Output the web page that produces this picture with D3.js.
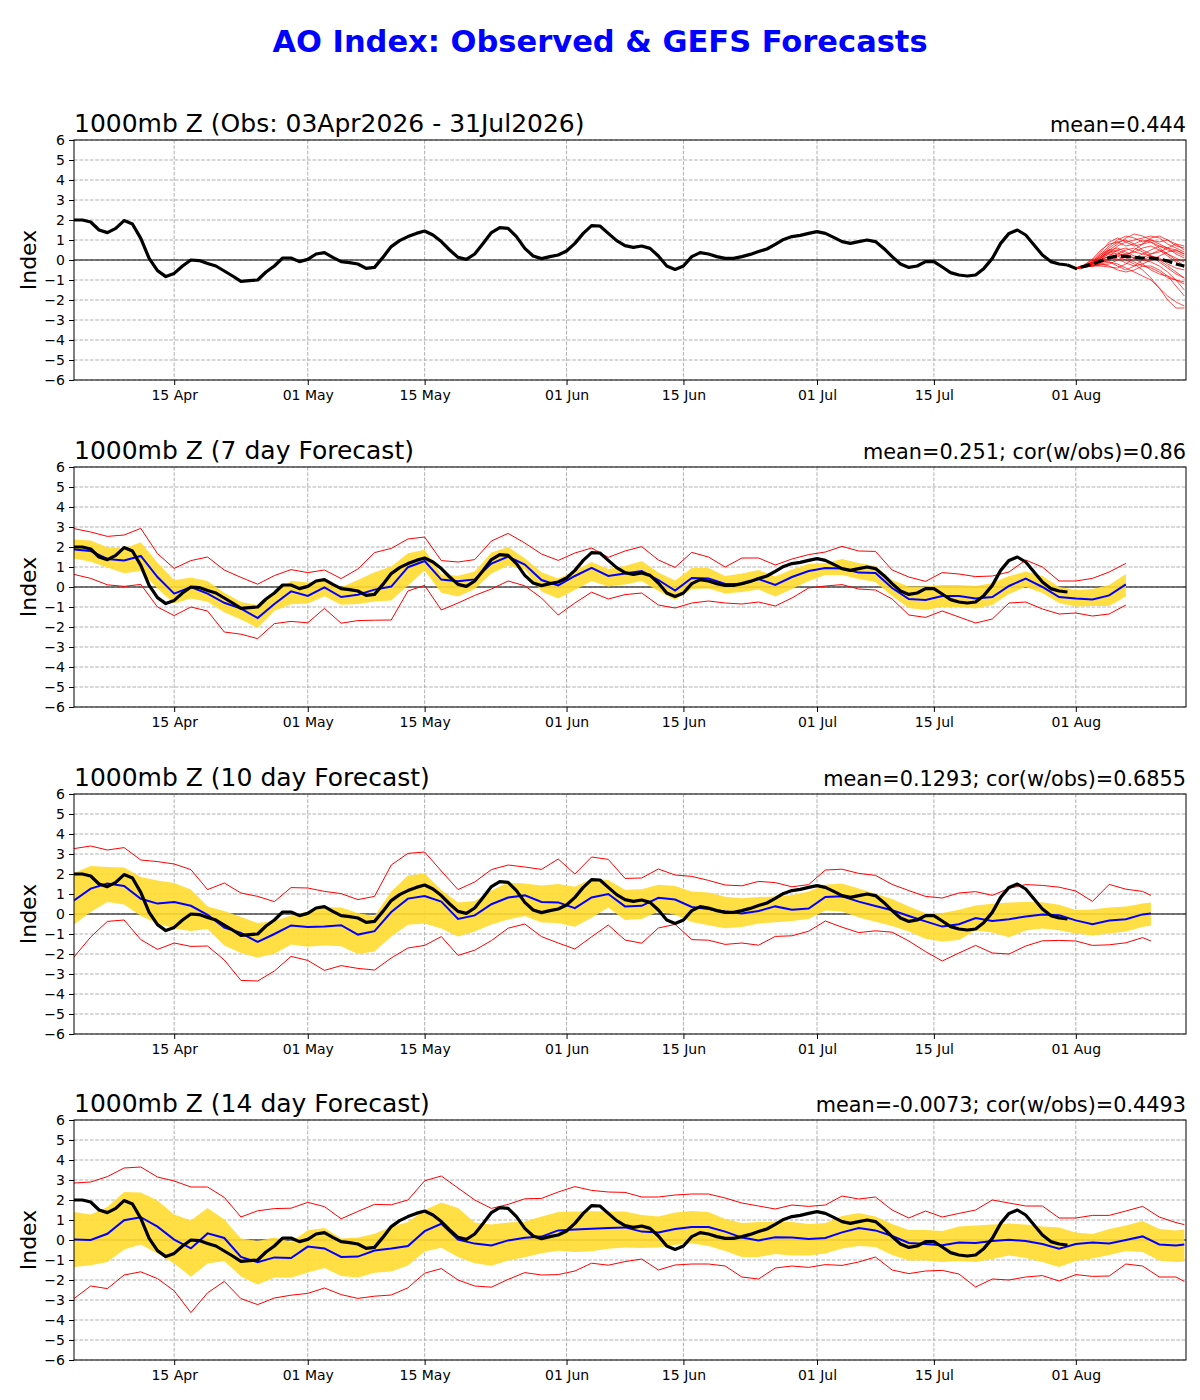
<!DOCTYPE html>
<html><head><meta charset="utf-8">
<script src="https://cdn.jsdelivr.net/npm/d3@7"></script>
<style>
body{margin:0;background:#fff}
svg{display:block;font-family:"DejaVu Sans",sans-serif}
</style>
</head><body>
<svg id="chart" width="1200" height="1400"></svg>
<script>
// ---------------- DATA ----------------
const startDateUTC = Date.UTC(2026, 3, 3);      // 03 Apr 2026 = day 0
const axisEndDay = 133.2;
const tickDates = ["2026-04-15","2026-05-01","2026-05-15","2026-06-01","2026-06-15","2026-07-01","2026-07-15","2026-08-01"];
const yTicks = [-6,-5,-4,-3,-2,-1,0,1,2,3,4,5,6];

const mainTitle = "AO Index: Observed & GEFS Forecasts";
const panelTitles = ["1000mb Z (Obs: 03Apr2026 - 31Jul2026)","1000mb Z (7 day Forecast)","1000mb Z (10 day Forecast)","1000mb Z (14 day Forecast)"];
const panelStats = ["mean=0.444","mean=0.251; cor(w/obs)=0.86","mean=0.1293; cor(w/obs)=0.6855","mean=-0.0073; cor(w/obs)=0.4493"];

// observed AO, daily 03 Apr .. 31 Jul
const obsAO = [2.0,2.0,1.9,1.5,1.37,1.58,1.97,1.8,1.08,0.08,
 -0.53,-0.83,-0.67,-0.3,0.0,-0.03,-0.17,-0.3,-0.55,-0.8,
 -1.07,-1.03,-1.0,-0.6,-0.3,0.1,0.1,-0.08,0.03,0.3,
 0.37,0.13,-0.08,-0.13,-0.2,-0.42,-0.37,0.13,0.67,0.97,
 1.17,1.33,1.45,1.25,0.92,0.5,0.13,0.03,0.3,0.83,
 1.37,1.62,1.58,1.17,0.58,0.2,0.07,0.17,0.25,0.45,
 0.83,1.33,1.72,1.7,1.33,0.97,0.72,0.63,0.7,0.58,
 0.2,-0.3,-0.47,-0.3,0.17,0.37,0.3,0.17,0.08,0.08,
 0.17,0.28,0.42,0.55,0.78,1.03,1.17,1.23,1.33,1.42,
 1.33,1.13,0.92,0.83,0.92,1.0,0.92,0.58,0.17,-0.2,
 -0.37,-0.3,-0.08,-0.08,-0.35,-0.63,-0.75,-0.8,-0.75,-0.42,
 0.08,0.83,1.33,1.5,1.25,0.75,0.25,-0.08,-0.2,-0.25];

// GEFS ensemble from 31 Jul (day 119) to 14 Aug (day 133)
const ensDays = d3.range(119, 134);
const ensMean = [-0.25,-0.42,-0.32,-0.2,-0.05,0.12,0.2,0.18,0.13,0.1,0.1,0.05,-0.05,-0.2,-0.3];
const ensMembers = [
 [-0.25,-0.4,-0.3,-0.1,0.3,0.7,1.0,1.2,1.1,0.9,1.0,0.8,0.6,0.5,0.3],
 [-0.25,-0.45,-0.35,-0.2,0.1,0.5,0.8,1.1,1.3,1.2,1.0,0.9,1.0,0.7,0.6],
 [-0.25,-0.4,-0.25,0.0,0.4,0.9,1.1,0.9,0.7,0.8,1.1,1.2,1.0,0.8,0.5],
 [-0.25,-0.45,-0.3,-0.2,-0.1,0.1,0.3,0.5,0.6,0.4,0.2,0.0,-0.3,-0.6,-0.9],
 [-0.25,-0.4,-0.35,-0.3,-0.2,-0.1,-0.2,-0.4,-0.6,-0.8,-1.0,-1.4,-1.8,-2.1,-2.3],
 [-0.25,-0.42,-0.3,-0.15,0.1,0.3,0.2,0.0,-0.2,-0.5,-0.9,-1.4,-2.0,-2.4,-2.4],
 [-0.25,-0.4,-0.3,-0.2,0.0,0.2,0.5,0.6,0.4,0.3,0.5,0.7,0.6,0.3,0.1],
 [-0.25,-0.42,-0.32,-0.25,-0.2,-0.3,-0.5,-0.6,-0.5,-0.3,-0.4,-0.6,-0.9,-1.0,-1.2],
 [-0.25,-0.45,-0.3,-0.1,0.2,0.5,0.6,0.4,0.2,0.1,0.3,0.5,0.3,0.0,-0.3],
 [-0.25,-0.4,-0.28,-0.15,0.05,0.15,0.05,-0.15,-0.3,-0.2,0.0,0.2,0.4,0.5,0.3],
 [-0.25,-0.42,-0.35,-0.3,-0.15,0.0,0.2,0.3,0.1,-0.2,-0.5,-0.7,-0.8,-1.0,-1.1],
 [-0.25,-0.4,-0.25,0.05,0.5,0.8,0.9,0.7,0.8,1.0,0.9,0.6,0.3,0.1,-0.1],
 [-0.25,-0.43,-0.33,-0.2,0.0,0.35,0.7,0.9,1.0,1.1,1.2,1.1,0.8,0.6,0.4],
 [-0.25,-0.41,-0.3,-0.2,-0.05,-0.1,-0.3,-0.5,-0.3,0.0,0.2,0.1,-0.2,-0.4,-0.5],
 [-0.25,-0.44,-0.36,-0.25,0.1,0.4,0.5,0.3,0.4,0.6,0.7,0.5,0.2,-0.1,-0.4],
 [-0.25,-0.4,-0.3,-0.15,0.15,0.4,0.3,0.2,0.1,0.0,-0.1,-0.3,-0.6,-1.0,-1.5],
 [-0.25,-0.42,-0.34,-0.3,-0.25,-0.2,0.0,0.2,0.5,0.8,0.9,0.7,0.5,0.4,0.2],
 [-0.25,-0.4,-0.3,-0.1,0.2,0.6,0.9,1.0,0.8,0.5,0.3,0.4,0.6,0.8,0.7],
 [-0.25,-0.45,-0.38,-0.3,-0.3,-0.35,-0.4,-0.2,0.1,0.3,0.2,-0.1,-0.4,-0.7,-0.9],
 [-0.25,-0.43,-0.3,-0.05,0.3,0.5,0.4,0.1,-0.1,-0.3,-0.3,-0.5,-0.8,-1.3,-1.8]
];

// 7-day forecasts (every 2nd day, day 0 .. 126)
const days7 = d3.range(0, 127, 2);
const redHi7 = [2.92,2.75,2.53,2.6,2.93,1.67,0.93,1.32,1.5,0.85, 0.48,0.14,0.57,0.87,0.72,0.85,0.42,0.9,1.72,1.93,
 2.4,2.5,1.32,1.25,1.37,2.3,2.68,2.2,1.65,1.33, 1.7,1.95,1.48,1.8,2.02,1.35,0.98,1.73,1.5,1.0,
 1.45,1.45,1.1,1.4,1.62,1.75,2.03,1.8,1.78,0.85, 0.5,0.28,0.72,0.65,0.52,0.55,0.75,1.35,1.0,0.3, 0.3,0.43,0.75,1.18];
const bandHi7 = [2.37,2.33,1.99,1.93,2.24,1.21,0.34,0.47,0.3,-0.29, -0.75,-0.9,-0.31,0.31,0.22,0.33,-0.01,0.35,0.74,1.03,
 1.69,1.86,0.64,0.56,0.77,1.72,2.0,1.44,0.74,0.43, 0.8,1.25,0.9,1.05,1.3,0.72,0.32,0.95,0.95,0.55,
 0.68,0.85,0.52,0.88,1.15,1.2,1.4,1.2,1.05,0.35, 0.02,0.02,0.1,0.1,0.05,0.2,0.55,0.77,0.55,0.0, -0.15,-0.1,0.1,0.65];
const mean7 = [1.87,1.8,1.4,1.33,1.55,0.5,-0.33,0.0,-0.33,-0.79, -1.08,-1.55,-0.85,-0.22,-0.45,-0.02,-0.5,-0.39,-0.13,0.02,
 0.99,1.3,0.37,0.29,0.38,1.17,1.52,1.12,0.35,0.08, 0.55,0.96,0.55,0.68,0.8,0.35,-0.18,0.45,0.43,0.15,
 0.15,0.4,0.1,0.5,0.8,0.95,0.92,0.72,0.7,-0.05, -0.6,-0.65,-0.45,-0.45,-0.57,-0.5,0.05,0.42,0.0,-0.5, -0.58,-0.62,-0.42,0.13];
const bandLo7 = [1.42,1.26,0.97,0.69,0.8,-0.07,-0.83,-0.58,-0.74,-1.26, -1.63,-2.04,-1.19,-0.86,-0.83,-0.46,-0.89,-0.85,-0.72,-0.67,
 0.07,0.83,-0.29,-0.48,-0.1,0.67,1.08,0.87,-0.22,-0.58, -0.15,0.3,0.02,0.12,0.3,-0.2,-0.65,-0.1,-0.08,-0.32,
 -0.25,-0.12,-0.48,-0.1,0.3,0.6,0.6,0.4,0.25,-0.45, -1.05,-1.15,-1.0,-1.0,-1.07,-0.9,-0.35,0.0,-0.3,-0.8, -0.98,-0.95,-0.95,-0.48];
const redLo7 = [0.63,0.43,0.11,0.03,0.13,-1.0,-1.43,-1.0,-1.2,-2.25, -2.36,-2.58,-1.83,-1.72,-1.79,-1.07,-1.81,-1.68,-1.66,-1.65,
 -0.2,0.08,-1.15,-0.8,-0.42,-0.1,0.3,0.06,-0.55,-1.4, -0.8,-0.26,-0.6,-0.38,-0.3,-0.9,-1.05,-0.8,-0.7,-0.8,
 -0.85,-0.75,-0.95,-0.55,-0.05,0.05,0.12,-0.1,-0.15,-0.6, -1.4,-1.52,-1.2,-1.5,-1.8,-1.6,-0.8,-0.75,-1.1,-1.35, -1.3,-1.45,-1.35,-0.9];

// 10-day forecasts (day 0 .. 128 every 2nd day, then 129)
const days10 = d3.range(0, 129, 2).concat([129]);
const redHi10 = [3.27,3.4,3.2,3.32,2.7,2.62,2.5,2.22,1.22,1.55, 1.05,0.88,0.62,1.32,1.3,1.13,1.02,0.72,0.88,2.45,
 3.03,3.1,2.15,1.22,1.6,2.22,2.45,2.35,2.23,2.75, 2.0,2.85,2.73,1.78,
 1.8,2.25,1.95,1.88,1.68,1.45,1.41,1.63,1.57,1.36, 1.47,2.2,2.24,2.03,1.93,1.48,1.17,0.88,0.8,1.05,
 1.12,0.93,1.28,1.47,1.43,1.34,1.15,0.63,1.48,1.24, 1.13,0.93];
const bandHi10 = [2.05,2.4,2.35,2.32,1.85,1.67,1.55,1.22,0.37,0.15, -0.15,-0.45,-0.35,-0.07,0.13,0.34,0.32,0.05,-0.1,1.12,
 1.93,2.02,1.2,0.58,0.65,1.17,1.58,1.52,1.43,1.5, 1.36,1.78,1.7,1.21,
 1.24,1.46,1.4,1.13,1.07,0.86,0.79,0.85,0.88,0.95, 1.12,1.46,1.52,1.28,1.01,0.75,0.37,0.05,0.05,0.21,
 0.43,0.51,0.58,0.6,0.59,0.46,0.2,0.22,0.32,0.37, 0.52,0.57];
const mean10 = [0.68,1.27,1.52,1.4,0.76,0.52,0.6,0.41,-0.04,-0.68, -0.95,-1.4,-1.0,-0.57,-0.65,-0.62,-0.56,-1.03,-0.86,0.1,
 0.77,0.9,0.62,-0.25,-0.07,0.49,0.82,0.93,0.6,0.58, 0.29,0.83,1.0,0.38,
 0.41,0.81,0.72,0.35,0.25,0.12,0.02,0.15,0.38,0.21, 0.27,0.85,0.89,0.62,0.4,0.19,-0.1,-0.37,-0.63,-0.51,
 -0.2,-0.35,-0.26,-0.12,-0.02,-0.06,-0.32,-0.51,-0.33,-0.26, -0.02,0.02];
const bandLo10 = [-0.52,0.1,0.6,0.48,-0.1,-0.48,-0.73,-0.85,-0.75,-1.57, -1.95,-2.18,-1.99,-1.52,-1.64,-1.57,-1.61,-2.0,-1.87,-1.12,
 -0.54,-0.48,-0.72,-1.13,-0.87,-0.52,-0.27,-0.1,-0.42,-0.45, -0.64,-0.19,0.33,-0.3,
 -0.25,0.12,-0.04,-0.4,-0.56,-0.71,-0.65,-0.48,-0.41,-0.35, -0.25,0.17,0.13,-0.17,-0.39,-0.6,-0.88,-1.24,-1.37,-1.3,
 -0.82,-0.92,-1.16,-0.83,-0.73,-0.81,-0.98,-1.07,-0.98,-0.88, -0.65,-0.57];
const redLo10 = [-2.15,-1.15,-0.37,-0.3,-1.28,-1.77,-1.45,-1.62,-1.6,-2.3, -3.32,-3.35,-2.85,-2.12,-2.32,-2.82,-2.58,-2.72,-2.8,-2.2,
 -1.7,-1.57,-1.13,-2.07,-1.81,-1.33,-0.71,-0.5,-1.13,-1.45, -1.75,-1.14,-0.55,-1.3,
 -1.46,-0.7,-0.52,-1.28,-1.31,-1.52,-1.45,-1.56,-1.12,-1.09, -0.86,-0.35,-0.66,-0.93,-0.84,-0.91,-1.35,-1.88,-2.35,-1.95,
 -1.57,-1.95,-2.0,-1.6,-1.34,-1.32,-1.35,-1.57,-1.54,-1.44, -1.18,-1.35];

// 14-day forecasts (day 0 .. 132 every 2nd day, then 133)
const days14 = d3.range(0, 133, 2).concat([133]);
const redHi14 = [2.85,2.9,3.17,3.6,3.65,3.15,2.95,2.65,2.65,2.13, 1.15,1.46,1.57,1.59,1.88,1.67,1.06,1.43,1.78,1.76,
 2.0,2.96,3.2,2.6,2.0,1.58,1.78,2.06,2.08,2.4, 2.67,2.48,2.4,2.38,
 2.15,2.15,2.25,2.3,2.3,2.1,1.85,1.7,1.55,1.75, 1.68,1.75,2.2,2.05,2.15,1.5,1.1,1.45,1.15,1.33,
 1.5,2.0,1.85,1.7,1.7,1.1,1.1,1.23,1.23,1.45, 1.68,1.15,0.87,0.77];
const bandHi14 = [1.4,1.27,1.65,2.4,2.38,1.98,1.28,0.98,1.6,1.03, 0.07,-0.05,0.13,-0.1,0.49,0.6,0.07,0.12,0.31,0.66,
 0.9,1.5,1.88,1.6,0.88,0.77,0.87,0.93,1.17,1.4, 1.42,1.44,1.43,1.42,
 1.25,1.18,1.37,1.45,1.4,1.05,0.85,0.9,0.93,0.9, 0.8,0.85,1.2,1.35,1.18,0.8,0.5,0.5,0.45,0.68,
 0.73,0.78,0.82,0.78,0.68,0.62,0.38,0.3,0.55,0.73, 0.95,0.55,0.48,0.52];
const mean14 = [0.03,0.0,0.31,0.99,1.14,0.67,0.02,-0.42,0.33,0.1, -0.85,-1.11,-0.87,-0.9,-0.33,-0.42,-0.85,-0.83,-0.53,-0.43,
 -0.3,0.44,0.81,0.02,-0.18,-0.27,-0.02,0.11,0.17,0.48, 0.52,0.56,0.6,0.63,
 0.42,0.38,0.55,0.65,0.65,0.42,0.12,-0.02,0.14,0.12, 0.05,0.1,0.38,0.6,0.48,0.2,-0.15,-0.2,-0.26,-0.13,
 -0.15,-0.05,0.01,-0.05,-0.2,-0.43,-0.2,-0.12,-0.18,0.0, 0.18,-0.22,-0.27,-0.23];
const bandLo14 = [-1.35,-1.26,-1.1,-0.47,-0.22,-0.68,-1.17,-1.84,-1.17,-1.05, -1.82,-2.23,-1.88,-1.89,-1.63,-1.4,-1.8,-1.87,-1.64,-1.57,
 -1.28,-0.58,-0.39,-0.85,-1.16,-1.29,-1.02,-0.86,-0.66,-0.54, -0.6,-0.56,-0.44,-0.37,
 -0.4,-0.38,-0.25,-0.18,-0.3,-0.55,-0.85,-0.85,-0.7,-0.77, -0.77,-0.68,-0.42,-0.3,-0.35,-0.75,-1.02,-1.02,-1.1,-1.05,
 -1.1,-0.95,-0.77,-0.9,-1.1,-1.35,-1.05,-0.93,-0.75,-0.55, -0.6,-1.02,-1.1,-1.07];
const redLo14 = [-2.93,-2.3,-2.43,-1.75,-1.59,-1.93,-2.54,-3.63,-2.64,-2.07, -2.93,-3.23,-2.9,-2.76,-2.67,-2.4,-2.73,-2.92,-2.81,-2.75,
 -2.39,-1.66,-1.43,-2.0,-2.3,-2.36,-1.97,-1.63,-1.75,-1.73, -1.55,-1.16,-1.26,-1.08,
 -0.95,-1.5,-1.25,-1.2,-1.2,-1.3,-1.85,-1.95,-1.4,-1.3, -1.37,-1.23,-1.27,-1.1,-0.85,-1.5,-1.68,-1.55,-1.52,-1.7,
 -2.35,-1.95,-2.0,-1.85,-1.78,-2.05,-1.73,-1.82,-1.8,-1.2, -1.3,-1.85,-1.85,-2.07];

// ---------------- DRAWING ----------------
const DAY = 864e5;
const dayDate = d => new Date(startDateUTC + d * DAY);
const svg = d3.select("#chart");
const plotLeft = 74, plotW = 1112, plotH = 240;
const panelTops = [140, 467, 794, 1120];

const x = d3.scaleUtc().domain([dayDate(0), dayDate(axisEndDay)]).range([0, plotW]);
const y = d3.scaleLinear().domain([-6, 6]).range([plotH, 0]);
const fmtMinus = d => d < 0 ? "\u2212" + (-d) : String(d);

svg.append("text").attr("x", 600).attr("y", 52).attr("text-anchor", "middle")
  .attr("fill", "#0000ff").attr("font-weight", "bold").attr("font-size", 30.5).text(mainTitle);

svg.append("defs").append("clipPath").attr("id", "plotclip")
  .append("rect").attr("width", plotW).attr("height", plotH);

const fc = [null,
  {days: days7, hi: redHi7, bhi: bandHi7, mean: mean7, blo: bandLo7, lo: redLo7},
  {days: days10, hi: redHi10, bhi: bandHi10, mean: mean10, blo: bandLo10, lo: redLo10},
  {days: days14, hi: redHi14, bhi: bandHi14, mean: mean14, blo: bandLo14, lo: redLo14}];

const lineOf = (days, vals) => d3.line()
  .x((d, i) => x(dayDate(days[i]))).y(d => y(d))(vals.slice(0, days.length));

panelTops.forEach((top, p) => {
  const g = svg.append("g").attr("transform", `translate(${plotLeft},${top})`);

  // grid
  const grid = g.append("g").attr("stroke", "#b0b0b0").attr("stroke-width", 1).attr("stroke-dasharray", "3.7,1.6");
  yTicks.forEach(t => grid.append("line").attr("x1", 0).attr("x2", plotW).attr("y1", y(t)).attr("y2", y(t)));
  tickDates.forEach(t => { const xx = x(new Date(t + "T00:00:00Z"));
    grid.append("line").attr("x1", xx).attr("x2", xx).attr("y1", 0).attr("y2", plotH); });

  // zero line
  g.append("line").attr("x1", 0).attr("x2", plotW).attr("y1", y(0)).attr("y2", y(0))
    .attr("stroke", "#000").attr("stroke-width", 1);

  const data = g.append("g").attr("clip-path", "url(#plotclip)");
  const obsDays = d3.range(obsAO.length);

  if (p === 0) {
    data.append("path").attr("d", lineOf(obsDays, obsAO)).attr("fill", "none")
      .attr("stroke", "#000").attr("stroke-width", 3.2).attr("stroke-linejoin", "round");
    ensMembers.forEach(m => data.append("path").attr("d", lineOf(ensDays, m)).attr("fill", "none")
      .attr("stroke", "#ff0000").attr("stroke-opacity", 0.7).attr("stroke-width", 1));
    data.append("path").attr("d", lineOf(ensDays, ensMean)).attr("fill", "none")
      .attr("stroke", "#000").attr("stroke-width", 3.2).attr("stroke-dasharray", "10,4");
  } else {
    const f = fc[p];
    const area = d3.area().x((d, i) => x(dayDate(f.days[i])))
      .y0((d, i) => y(f.blo[i])).y1((d, i) => y(f.bhi[i]));
    data.append("path").attr("d", area(f.days)).attr("fill", "#ffdc30").attr("fill-opacity", 0.9);
    data.append("path").attr("d", lineOf(f.days, f.hi)).attr("fill", "none").attr("stroke", "#ff0000").attr("stroke-width", 1);
    data.append("path").attr("d", lineOf(f.days, f.lo)).attr("fill", "none").attr("stroke", "#ff0000").attr("stroke-width", 1);
    data.append("path").attr("d", lineOf(f.days, f.mean)).attr("fill", "none").attr("stroke", "#0000ff").attr("stroke-width", 2);
    data.append("path").attr("d", lineOf(obsDays, obsAO)).attr("fill", "none")
      .attr("stroke", "#000").attr("stroke-width", 3.2).attr("stroke-linejoin", "round");
  }

  // axes
  const ya = g.append("g").call(d3.axisLeft(y).tickValues(yTicks).tickFormat(fmtMinus).tickSize(5).tickPadding(4));
  const xa = g.append("g").attr("transform", `translate(0,${plotH})`)
    .call(d3.axisBottom(x).tickValues(tickDates.map(t => new Date(t + "T00:00:00Z")))
      .tickFormat(d3.utcFormat("%d %b")).tickSize(5).tickPadding(5));
  [ya, xa].forEach(a => { a.select(".domain").remove();
    a.selectAll("text").attr("font-size", 14).attr("font-family", "DejaVu Sans").attr("fill", "#000");
    a.selectAll("line").attr("stroke", "#000"); });

  // frame
  g.append("rect").attr("width", plotW).attr("height", plotH).attr("fill", "none")
    .attr("stroke", "#000").attr("stroke-width", 1);

  // titles
  g.append("text").attr("x", 0).attr("y", -8).attr("font-size", 25).text(panelTitles[p]);
  g.append("text").attr("x", plotW).attr("y", -8).attr("text-anchor", "end").attr("font-size", 20.8).text(panelStats[p]);
  g.append("text").attr("transform", `translate(-38,${plotH / 2}) rotate(-90)`)
    .attr("text-anchor", "middle").attr("font-size", 22).text("Index");
});
</script>
</body></html>
